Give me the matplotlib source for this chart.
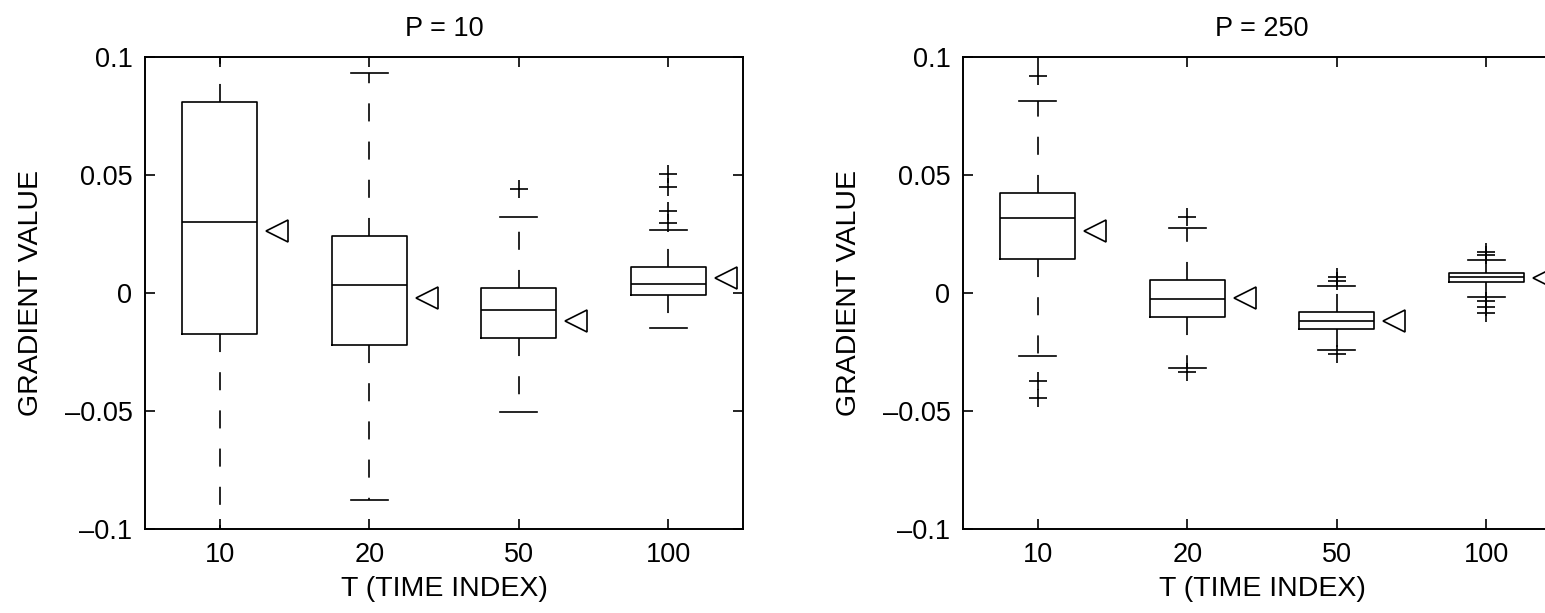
import matplotlib
matplotlib.use("Agg")
import matplotlib.pyplot as plt

plt.rcParams['font.family'] = ['Liberation Sans', 'DejaVu Sans']
plt.rcParams['lines.scale_dashes'] = False

categories = ['10', '20', '50', '100']
titles = ['P = 10', 'P = 250']
ytick_values = [-0.1, -0.05, 0, 0.05, 0.1]
ytick_labels = ['\u20130.1', '\u20130.05', '0', '0.05', '0.1']

# P = 10
p10_whislo = [-0.115, -0.0877, -0.0506, -0.0147]
p10_q1 = [-0.0174, -0.0220, -0.0189, -0.0008]
p10_med = [0.0302, 0.0035, -0.0072, 0.0037]
p10_q3 = [0.0809, 0.0242, 0.0022, 0.0109]
p10_whishi = [0.115, 0.0931, 0.0321, 0.0267]
p10_fliers = [[], [], [0.0442], [0.0504, 0.0448, 0.0347, 0.0298]]

# P = 250
p250_whislo = [-0.0266, -0.0319, -0.0242, -0.0017]
p250_q1 = [0.0143, -0.0102, -0.0153, 0.0045]
p250_med = [0.0317, -0.0024, -0.0117, 0.0066]
p250_q3 = [0.0425, 0.0055, -0.0079, 0.0083]
p250_whishi = [0.0814, 0.0277, 0.0030, 0.0138]
p250_fliers = [[0.0920, -0.0373, -0.0446], [0.0323, -0.0333],
               [0.0066, 0.0052, -0.0260], [0.0172, 0.0160, -0.0035, -0.0060, -0.0085]]

# true gradient values (triangles)
truth = [0.0264, -0.0022, -0.0117, 0.0064]

W, H = 1545, 613
fig = plt.figure(figsize=(W / 100, H / 100), dpi=100)

panels = [
    (p10_whislo, p10_q1, p10_med, p10_q3, p10_whishi, p10_fliers),
    (p250_whislo, p250_q1, p250_med, p250_q3, p250_whishi, p250_fliers),
]
lefts = [145, 963]
ax_w = 598
ax_top, ax_bot = 57, 529

lw = 1.2
for k, (wlo, q1, med, q3, whi, fl) in enumerate(panels):
    ax = fig.add_axes([lefts[k] / W, (H - ax_bot) / H, ax_w / W, (ax_bot - ax_top) / H])
    stats = []
    for i in range(len(categories)):
        stats.append(dict(whislo=wlo[i], q1=q1[i], med=med[i], q3=q3[i],
                          whishi=whi[i], fliers=fl[i]))
    pos = list(range(1, len(categories) + 1))
    ax.bxp(stats, positions=pos, widths=0.5, showfliers=True,
           boxprops=dict(color='black', linewidth=lw),
           medianprops=dict(color='black', linewidth=lw),
           whiskerprops=dict(color='black', linewidth=lw, linestyle=(0, (13, 14.5))),
           capprops=dict(color='black', linewidth=lw),
           flierprops=dict(marker='+', markersize=13, markeredgecolor='black',
                           markeredgewidth=lw, linestyle='none'))
    ax.plot([p + 0.385 for p in pos], truth, linestyle='none', marker='<',
            markersize=15.5, markerfacecolor='none', markeredgecolor='black',
            markeredgewidth=lw, clip_on=False if k == 0 else True)
    ax.set_xlim(0.5, 4.5)
    ax.set_ylim(-0.1, 0.1)
    ax.set_yticks(ytick_values)
    ax.set_yticklabels(ytick_labels)
    ax.set_xticks(pos)
    ax.set_xticklabels(categories)
    ax.tick_params(direction='in', length=7, width=1.2, top=True, right=True,
                   labelsize=19.5, pad=9, colors='black')
    for s in ax.spines.values():
        s.set_linewidth(1.4)
    ax.set_title(titles[k], fontsize=19.5, pad=15)
    ax.set_xlabel('T (TIME INDEX)', fontsize=20.5, labelpad=6)
    ax.set_ylabel('GRADIENT VALUE', fontsize=20.5, labelpad=15)

fig.savefig('out.png', dpi=100)
